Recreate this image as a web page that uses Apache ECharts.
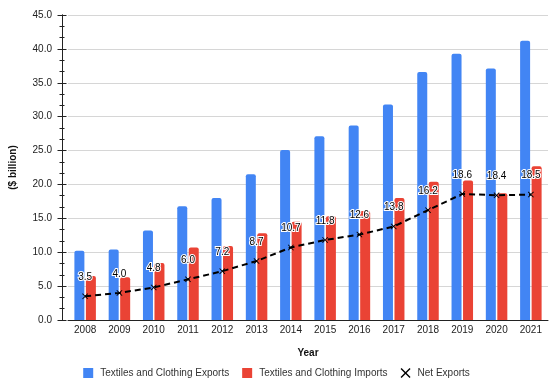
<!DOCTYPE html>
<html>
<head>
<meta charset="utf-8">
<script src="https://cdn.jsdelivr.net/npm/echarts@6/dist/echarts.min.js"></script>
<style>
  html, body { margin: 0; padding: 0; background: #fff; }
  #chart { width: 553px; height: 386px; }
</style>
</head>
<body>
<div id="chart"></div>
<script>
// Textiles and clothing trade, $ billion
const years = ['2008','2009','2010','2011','2012','2013','2014','2015','2016','2017','2018','2019','2020','2021'];
const exportsData = [10.2, 10.4, 13.2, 16.8, 18.0, 21.5, 25.1, 27.1, 28.7, 31.8, 36.6, 39.3, 37.1, 41.2];
const importsData = [6.5, 6.3, 8.4, 10.7, 10.9, 12.8, 14.5, 15.3, 16.1, 18.0, 20.4, 20.6, 18.7, 22.7];
const netExports = [3.5, 4.0, 4.8, 6.0, 7.2, 8.7, 10.7, 11.8, 12.6, 13.8, 16.2, 18.6, 18.4, 18.5];

// filled "x" marker
const crossPath = 'path://M1,0 L5,4 L9,0 L10,1 L6,5 L10,9 L9,10 L5,6 L1,10 L0,9 L4,5 L0,1 Z';

const chart = echarts.init(document.getElementById('chart'));
const font = 'Arial, "Liberation Sans", sans-serif';

const tickAxisBase = {
  type: 'value',
  min: 0,
  max: 45,
  interval: 5,
  position: 'left',
  offset: 6,
  axisLine: { show: true, lineStyle: { color: '#222', width: 1 } },
  minorTick: { show: true, splitNumber: 3, length: 2.5, lineStyle: { color: '#222' } },
  minorSplitLine: { show: false }
};

chart.setOption({
  animation: false,
  textStyle: { fontFamily: font },
  grid: { left: 66, right: 5, top: 15, bottom: 66, containLabel: false },
  legend: {
    bottom: 3,
    left: 'center',
    itemWidth: 10,
    itemHeight: 10,
    itemGap: 13,
    textStyle: { fontSize: 10, color: '#333', fontFamily: font, padding: [0, 0, 0, 2] },
    data: [
      { name: 'Textiles and Clothing Exports', icon: 'rect' },
      { name: 'Textiles and Clothing Imports', icon: 'rect' },
      { name: 'Net Exports', icon: crossPath, itemStyle: { color: '#000' } }
    ]
  },
  xAxis: {
    type: 'category',
    data: years,
    name: 'Year',
    nameLocation: 'middle',
    nameGap: 28,
    nameTextStyle: { fontWeight: 'bold', fontSize: 10, color: '#111' },
    axisLine: { lineStyle: { color: '#222', width: 1 } },
    axisTick: { show: false },
    axisLabel: { fontSize: 10, color: '#222', margin: 5 }
  },
  yAxis: [
    Object.assign({}, tickAxisBase, {
      name: '($ billion)',
      nameLocation: 'middle',
      nameGap: 44,
      nameTextStyle: { fontWeight: 'bold', fontSize: 10, color: '#111' },
      axisTick: { show: true, length: 4.5, lineStyle: { color: '#222' } },
      axisLabel: { fontSize: 10, color: '#222', margin: 10, formatter: v => v.toFixed(1) },
      splitLine: { show: true, lineStyle: { color: '#d6d6d6', width: 1 } }
    }),
    Object.assign({}, tickAxisBase, {
      axisTick: { show: true, inside: true, length: 4.5, lineStyle: { color: '#222' } },
      minorTick: { show: true, splitNumber: 3, length: 2.5, lineStyle: { color: '#222' } },
      axisLabel: { show: false },
      splitLine: { show: false }
    })
  ],
  series: [
    {
      name: 'Textiles and Clothing Exports',
      type: 'bar',
      data: exportsData,
      barWidth: 10,
      barGap: '15%',
      itemStyle: { color: '#4285F4', borderRadius: [2, 2, 0, 0] }
    },
    {
      name: 'Textiles and Clothing Imports',
      type: 'bar',
      data: importsData,
      barWidth: 10,
      barGap: '15%',
      itemStyle: { color: '#EA4335', borderRadius: [2, 2, 0, 0] }
    },
    {
      name: 'Net Exports',
      type: 'line',
      data: netExports,
      symbol: crossPath,
      symbolSize: 6,
      z: 5,
      itemStyle: { color: '#000' },
      lineStyle: { color: '#000', width: 2, type: [6, 4] },
      label: {
        show: true,
        position: 'top',
        distance: 11,
        fontSize: 10,
        color: '#000',
        textBorderColor: '#fff',
        textBorderWidth: 2,
        formatter: p => p.value.toFixed(1)
      }
    }
  ]
});
</script>
</body>
</html>
